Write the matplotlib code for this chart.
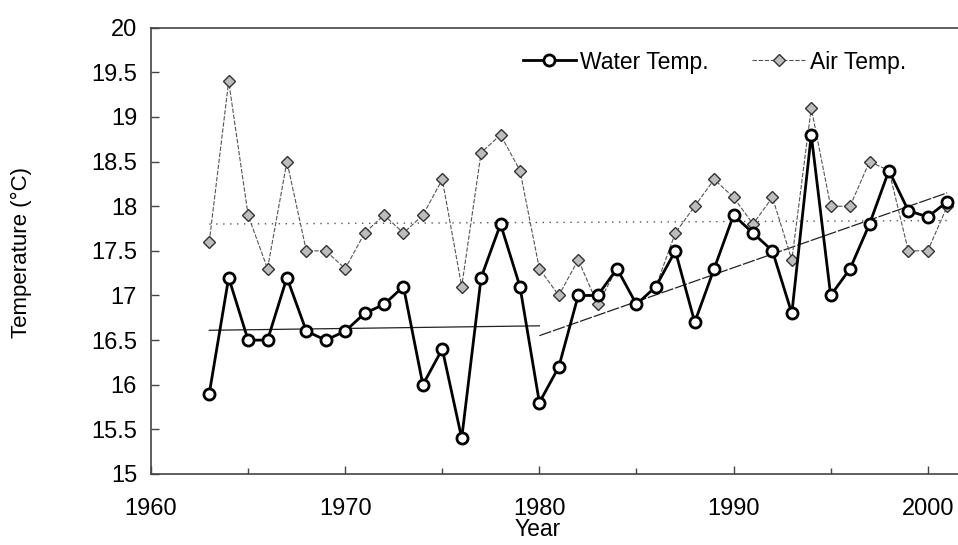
import matplotlib
matplotlib.use("Agg")
import matplotlib.pyplot as plt
from matplotlib.lines import Line2D
from matplotlib.ticker import MultipleLocator

plt.rcParams['font.family'] = ['Liberation Sans', 'DejaVu Sans']

years = list(range(1963, 2002))

water_temp = [15.9, 17.2, 16.5, 16.5, 17.2, 16.6, 16.5, 16.6, 16.8, 16.9,
              17.1, 16.0, 16.4, 15.4, 17.2, 17.8, 17.1, 15.8, 16.2, 17.0,
              17.0, 17.3, 16.9, 17.1, 17.5, 16.7, 17.3, 17.9, 17.7, 17.5,
              16.8, 18.8, 17.0, 17.3, 17.8, 18.4, 17.95, 17.88, 18.05]

air_temp = [17.6, 19.4, 17.9, 17.3, 18.5, 17.5, 17.5, 17.3, 17.7, 17.9,
            17.7, 17.9, 18.3, 17.1, 18.6, 18.8, 18.4, 17.3, 17.0, 17.4,
            16.9, 17.3, 16.9, 17.1, 17.7, 18.0, 18.3, 18.1, 17.8, 18.1,
            17.4, 19.1, 18.0, 18.0, 18.5, 18.4, 17.5, 17.5, 18.0]

# Trend lines (start/end year and value)
water_trend_early_x = [1963, 1980]
water_trend_early_y = [16.61, 16.66]
water_trend_late_x = [1980, 2001]
water_trend_late_y = [16.55, 18.15]
air_trend_x = [1963, 2001]
air_trend_y = [17.80, 17.84]

W, H = 958, 545
fig = plt.figure(figsize=(W / 100, H / 100), dpi=100)
left, right, bottom, top = 151, 966.6, 474, 27.7
ax = fig.add_axes([left / W, 1 - bottom / H, (right - left) / W, (bottom - top) / H])

# Air temperature series
ax.plot(years, air_temp, linestyle=(0, (4, 1.5)), color='#555555', lw=0.8,
        marker='D', markersize=6, markerfacecolor='#bdbdbd',
        markeredgecolor='#333333', markeredgewidth=1.0, zorder=3)
# Water temperature series
ax.plot(years, water_temp, '-', color='black', lw=2.0,
        marker='o', markersize=8, markerfacecolor='white',
        markeredgecolor='black', markeredgewidth=2.0, zorder=4)

# Trend lines
ax.plot(water_trend_early_x, water_trend_early_y, '-', color='#222222', lw=0.9, zorder=2)
ax.plot(water_trend_late_x, water_trend_late_y, linestyle=(0, (10, 1.5)),
        color='#222222', lw=0.9, zorder=2)
ax.plot(air_trend_x, air_trend_y, linestyle=(0, (1, 4)), color='#555555', lw=1.0, zorder=2)

ax.set_xlim(1960, 2002)
ax.set_ylim(15, 20)
ax.xaxis.set_major_locator(MultipleLocator(10))
ax.xaxis.set_minor_locator(MultipleLocator(5))
ax.yaxis.set_major_locator(MultipleLocator(0.5))
ax.yaxis.set_major_formatter(plt.FuncFormatter(lambda v, p: f"{v:g}"))

ax.tick_params(axis='both', which='both', direction='in', labelsize=17,
               color='#444444', width=1.0)
ax.tick_params(axis='y', which='major', length=6, pad=10)
ax.tick_params(axis='x', which='major', length=6, pad=17)
ax.tick_params(axis='x', which='minor', length=4)
ax.tick_params(right=False, top=False)

for side in ['left', 'bottom', 'top']:
    ax.spines[side].set_color('#444444')
    ax.spines[side].set_linewidth(1.2)
ax.spines['right'].set_visible(False)

fig.text(21.7 / W, 1 - 252.5 / H, 'Temperature (°C)', rotation=90,
         ha='center', va='center', fontsize=16)
fig.text(537.5 / W, 1 - 529.4 / H, 'Year', ha='center', va='center', fontsize=16.5)

handles = [
    Line2D([], [], color='black', lw=2.0, marker='o', markersize=8,
           markerfacecolor='white', markeredgecolor='black', markeredgewidth=2.0),
    Line2D([], [], linestyle=(0, (4, 1.5)), color='#555555', lw=0.8, marker='D',
           markersize=6, markerfacecolor='#bdbdbd', markeredgecolor='#333333',
           markeredgewidth=1.0),
]
fig.legend(handles, ['Water Temp.', 'Air Temp.'], ncol=2, frameon=False,
           loc='center left', bbox_to_anchor=(523 / W, 1 - 62 / H),
           fontsize=16.5, handlelength=2.3, handletextpad=0.2, columnspacing=1.9,
           borderpad=0, borderaxespad=0)

fig.savefig('out.png', dpi=100)
